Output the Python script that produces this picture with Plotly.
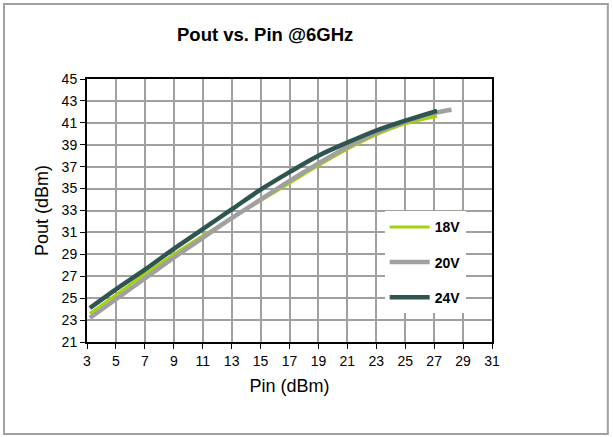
import plotly.graph_objects as go

# Pout vs Pin at 6 GHz, three drain voltages
pin_18v = [3.2, 5, 7, 9, 11, 13, 15, 17, 19, 21, 23, 25, 27.2]
pout_18v = [23.6, 25.3, 27.2, 29.0, 30.7, 32.3, 33.9, 35.5, 37.1, 38.6, 39.9, 40.9, 41.6]

pin_20v = [3.2, 5, 7, 9, 11, 13, 15, 17, 19, 21, 23, 25, 27, 28.2]
pout_20v = [23.2, 24.9, 26.8, 28.7, 30.5, 32.3, 34.0, 35.7, 37.3, 38.8, 40.1, 41.1, 41.9, 42.2]

pin_24v = [3.2, 5, 7, 9, 11, 13, 15, 17, 19, 21, 23, 25, 27.2]
pout_24v = [24.1, 25.8, 27.6, 29.5, 31.3, 33.1, 34.9, 36.5, 38.0, 39.2, 40.3, 41.2, 42.1]

series = [
    ("18V", pin_18v, pout_18v, "#A6D20A", 3),
    ("20V", pin_20v, pout_20v, "#A0A0A0", 4.5),
    ("24V", pin_24v, pout_24v, "#2E5550", 4.5),
]

fig = go.Figure()
for name, x, y, color, width in series:
    fig.add_trace(
        go.Scatter(
            x=x,
            y=y,
            name=name,
            mode="lines",
            line={"color": color, "width": width, "shape": "spline"},
            legendgroup=name,
        )
    )

font = "Liberation Sans, Arial, sans-serif"
axis_common = {
    "showgrid": True,
    "gridcolor": "#A0A0A0",
    "gridwidth": 1.6,
    "showline": True,
    "linecolor": "black",
    "linewidth": 2,
    "mirror": True,
    "ticks": "outside",
    "ticklen": 5,
    "tickcolor": "black",
    "tickfont": {"size": 14, "color": "black", "family": font},
    "zeroline": False,
}

fig.update_layout(
    width=613,
    height=437,
    paper_bgcolor="white",
    plot_bgcolor="white",
    margin={"l": 87, "r": 121, "t": 79, "b": 95, "autoexpand": False},
    title={
        "text": "<b>Pout vs. Pin @6GHz</b>",
        "xref": "paper",
        "x": 0.44,
        "xanchor": "center",
        "y": 0.922,
        "yanchor": "middle",
        "font": {"size": 18.5, "color": "black", "family": font},
    },
    xaxis={
        **axis_common,
        "range": [3, 31],
        "tickvals": list(range(3, 32, 2)),
        "title": {"text": "Pin (dBm)", "font": {"size": 18, "color": "black", "family": font}, "standoff": 12},
    },
    yaxis={
        **axis_common,
        "range": [21, 45],
        "tickvals": list(range(21, 46, 2)),
        "title": {"text": "Pout (dBm)", "font": {"size": 18, "color": "black", "family": font}, "standoff": 8},
    },
    legend={
        "x": 0.735,
        "y": 0.497,
        "xanchor": "left",
        "yanchor": "top",
        "bgcolor": "white",
        "borderwidth": 0,
        "font": {"size": 14, "color": "black", "family": font, "weight": "bold"},
        "tracegroupgap": 14,
        "itemwidth": 40,
    },
    shapes=[
        {
            "type": "rect",
            "xref": "paper",
            "yref": "paper",
            "x0": -0.205,
            "x1": 1.286,
            "y0": -0.35,
            "y1": 1.285,
            "line": {"color": "#A0A0A0", "width": 2},
            "layer": "below",
        }
    ],
)

fig.write_html(
    "out.html",
    config={"displayModeBar": False},
    post_script="document.body.style.margin='0';",
)
